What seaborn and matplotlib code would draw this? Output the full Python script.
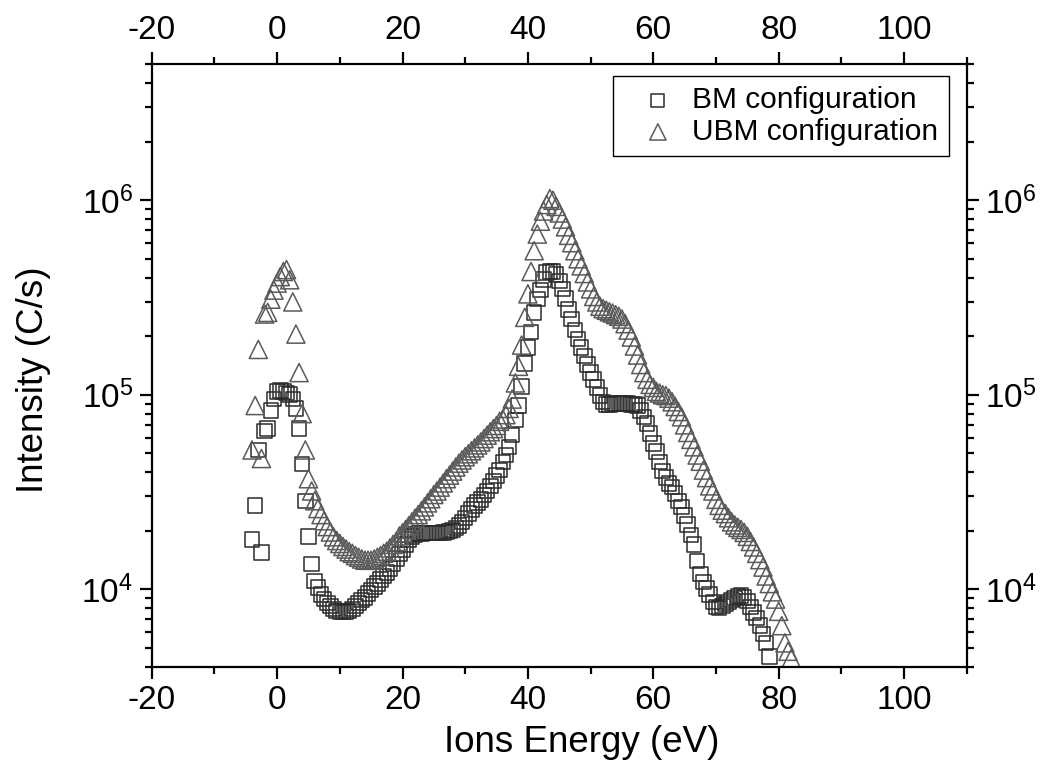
import numpy as np
import pandas as pd
import matplotlib
matplotlib.use("Agg")
import matplotlib.pyplot as plt
import seaborn as sns
from matplotlib.ticker import MultipleLocator

nan = np.nan

# ion energy grid (eV)
energy = [
    -4.0, -3.5, -3.0, -2.5, -2.0, -1.5, -1.0, -0.5, 0.0, 0.5,
    1.0, 1.5, 2.0, 2.5, 3.0, 3.5, 4.0, 4.5, 5.0, 5.5,
    6.0, 6.5, 7.0, 7.5, 8.0, 8.5, 9.0, 9.5, 10.0, 10.5,
    11.0, 11.5, 12.0, 12.5, 13.0, 13.5, 14.0, 14.5, 15.0, 15.5,
    16.0, 16.5, 17.0, 17.5, 18.0, 18.5, 19.0, 19.5, 20.0, 20.5,
    21.0, 21.5, 22.0, 22.5, 23.0, 23.5, 24.0, 24.5, 25.0, 25.5,
    26.0, 26.5, 27.0, 27.5, 28.0, 28.5, 29.0, 29.5, 30.0, 30.5,
    31.0, 31.5, 32.0, 32.5, 33.0, 33.5, 34.0, 34.5, 35.0, 35.5,
    36.0, 36.5, 37.0, 37.5, 38.0, 38.5, 39.0, 39.5, 40.0, 40.5,
    41.0, 41.5, 42.0, 42.5, 43.0, 43.5, 44.0, 44.5, 45.0, 45.5,
    46.0, 46.5, 47.0, 47.5, 48.0, 48.5, 49.0, 49.5, 50.0, 50.5,
    51.0, 51.5, 52.0, 52.5, 53.0, 53.5, 54.0, 54.5, 55.0, 55.5,
    56.0, 56.5, 57.0, 57.5, 58.0, 58.5, 59.0, 59.5, 60.0, 60.5,
    61.0, 61.5, 62.0, 62.5, 63.0, 63.5, 64.0, 64.5, 65.0, 65.5,
    66.0, 66.5, 67.0, 67.5, 68.0, 68.5, 69.0, 69.5, 70.0, 70.5,
    71.0, 71.5, 72.0, 72.5, 73.0, 73.5, 74.0, 74.5, 75.0, 75.5,
    76.0, 76.5, 77.0, 77.5, 78.0, 78.5, 79.0, 79.5, 80.0, 80.5,
    81.0, 81.5, 82.0,
]

# BM configuration intensity (C/s)
bm_intensity = [
    1.8e4, 2.7e4, 5.2e4, 1.55e4, 6.5e4, 6.7e4, 8.3e4, 9.5e4, 1.04e5, 1.05e5,
    1.04e5, 1.02e5, 1.0e5, 9.5e4, 8.5e4, 6.7e4, 4.4e4, 2.85e4, 1.87e4, 1.35e4,
    1.1e4, 1.02e4, 9.4e3, 8.9e3, 8.5e3, 8.2e3, 7.9e3, 7.75e3, 7.7e3, 7.65e3,
    7.7e3, 7.75e3, 7.9e3, 8.2e3, 8.5e3, 8.8e3, 9.1e3, 9.5e3, 9.9e3, 1.03e4,
    1.07e4, 1.12e4, 1.17e4, 1.22e4, 1.28e4, 1.35e4, 1.44e4, 1.52e4, 1.6e4, 1.7e4,
    1.8e4, 1.87e4, 1.91e4, 1.93e4, 1.94e4, 1.95e4, 1.95e4, 1.95e4, 1.95e4, 1.95e4,
    1.95e4, 1.96e4, 1.97e4, 1.99e4, 2.02e4, 2.07e4, 2.13e4, 2.22e4, 2.33e4, 2.45e4,
    2.57e4, 2.7e4, 2.8e4, 2.9e4, 3.05e4, 3.2e4, 3.4e4, 3.6e4, 3.85e4, 4.1e4,
    4.5e4, 4.9e4, 5.4e4, 6.2e4, 7.4e4, 8.8e4, 1.1e5, 1.45e5, 1.75e5, 2.1e5,
    2.65e5, 3.1e5, 3.45e5, 3.9e5, 4.25e5, 4.3e5, 4.3e5, 4.15e5, 3.85e5, 3.5e5,
    3.13e5, 2.75e5, 2.45e5, 2.15e5, 1.93e5, 1.75e5, 1.58e5, 1.43e5, 1.3e5, 1.2e5,
    1.09e5, 9.9e4, 9.2e4, 8.9e4, 8.9e4, 9.0e4, 9.0e4, 9.0e4, 9.0e4, 9.0e4,
    9.0e4, 8.9e4, 8.9e4, 8.8e4, 8.3e4, 7.7e4, 7.1e4, 6.3e4, 5.6e4, 5.1e4,
    4.5e4, 4.05e4, 3.75e4, 3.5e4, 3.35e4, 3.1e4, 2.85e4, 2.65e4, 2.4e4, 2.15e4,
    1.9e4, 1.7e4, 1.4e4, 1.2e4, 1.09e4, 1.01e4, 9.4e3, 8.6e3, 8.1e3, 8.0e3,
    8.2e3, 8.4e3, 8.6e3, 8.8e3, 9.0e3, 9.2e3, 9.3e3, 9.1e3, 8.7e3, 8.1e3,
    7.6e3, 7.1e3, 6.5e3, 5.9e3, 5.3e3, 4.5e3, nan, nan, nan, nan,
    nan, nan, nan,
]

# UBM configuration intensity (C/s)
ubm_intensity = [
    5.2e4, 8.8e4, 1.71e5, 4.7e4, 2.6e5, 2.65e5, 3.1e5, 3.45e5, 3.75e5, 4.05e5,
    4.3e5, 4.4e5, 3.9e5, 3.0e5, 2.05e5, 1.3e5, 8.0e4, 5.2e4, 3.7e4, 3.2e4,
    2.85e4, 2.6e4, 2.42e4, 2.25e4, 2.1e4, 1.97e4, 1.86e4, 1.78e4, 1.72e4, 1.66e4,
    1.61e4, 1.56e4, 1.53e4, 1.49e4, 1.46e4, 1.43e4, 1.41e4, 1.41e4, 1.41e4, 1.43e4,
    1.46e4, 1.49e4, 1.53e4, 1.57e4, 1.63e4, 1.7e4, 1.76e4, 1.88e4, 1.95e4, 2.03e4,
    2.12e4, 2.22e4, 2.32e4, 2.42e4, 2.53e4, 2.65e4, 2.78e4, 2.92e4, 3.07e4, 3.2e4,
    3.35e4, 3.52e4, 3.7e4, 3.86e4, 4.05e4, 4.25e4, 4.45e4, 4.62e4, 4.8e4, 4.97e4,
    5.15e4, 5.33e4, 5.52e4, 5.72e4, 5.95e4, 6.2e4, 6.45e4, 6.7e4, 6.95e4, 7.3e4,
    7.5e4, 7.9e4, 8.5e4, 9.5e4, 1.15e5, 1.4e5, 1.8e5, 2.5e5, 3.3e5, 4.3e5,
    5.5e5, 6.7e5, 7.8e5, 8.8e5, 9.5e5, 1.02e6, 1.0e6, 9.3e5, 8.6e5, 8.0e5,
    7.3e5, 6.6e5, 6.05e5, 5.5e5, 5.0e5, 4.6e5, 4.2e5, 3.8e5, 3.5e5, 3.2e5,
    3.0e5, 2.85e5, 2.77e5, 2.72e5, 2.67e5, 2.63e5, 2.58e5, 2.53e5, 2.45e5, 2.32e5,
    2.15e5, 1.98e5, 1.78e5, 1.6e5, 1.43e5, 1.3e5, 1.2e5, 1.13e5, 1.09e5, 1.04e5,
    1.02e5, 1.0e5, 9.9e4, 9.6e4, 9.2e4, 8.7e4, 8.2e4, 7.7e4, 7.0e4, 6.4e4,
    5.9e4, 5.4e4, 4.9e4, 4.55e4, 4.1e4, 3.75e4, 3.4e4, 3.2e4, 2.9e4, 2.7e4,
    2.55e4, 2.45e4, 2.33e4, 2.22e4, 2.14e4, 2.08e4, 2.03e4, 1.96e4, 1.87e4, 1.76e4,
    1.65e4, 1.53e4, 1.42e4, 1.3e4, 1.17e4, 1.07e4, 9.7e3, 8.9e3, 7.7e3, 6.5e3,
    5.3e3, 4.8e3, 4.4e3,
]

series_labels = ["BM configuration", "UBM configuration"]

df_bm = pd.DataFrame({"energy": energy, "intensity": bm_intensity})
df_ubm = pd.DataFrame({"energy": energy, "intensity": ubm_intensity})

sns.set_style("ticks")
plt.rcParams["font.family"] = ["Liberation Sans", "DejaVu Sans"]
plt.rcParams["mathtext.fontset"] = "custom"
plt.rcParams["mathtext.rm"] = "Liberation Sans"
plt.rcParams["mathtext.it"] = "Liberation Sans:italic"
plt.rcParams["mathtext.default"] = "regular"
plt.rcParams["axes.unicode_minus"] = False
plt.rcParams["text.color"] = "black"
plt.rcParams["axes.labelcolor"] = "black"
plt.rcParams["xtick.color"] = "black"
plt.rcParams["ytick.color"] = "black"

fig = plt.figure(figsize=(10.45, 7.81), dpi=100)
ax = fig.add_axes([0.1452, 0.1464, 0.7799, 0.7713])

sns.scatterplot(data=df_bm, x="energy", y="intensity", ax=ax, marker="s", s=110,
                facecolor="none", edgecolor="#2b2b2b", linewidth=1.1,
                label=series_labels[0])
sns.scatterplot(data=df_ubm, x="energy", y="intensity", ax=ax, marker="^", s=170,
                facecolor="none", edgecolor="#5a5a5a", linewidth=1.1,
                label=series_labels[1])

ax.set_yscale("log")
ax.set_xlim(-20, 110)
ax.set_ylim(4e3, 5e6)
ax.xaxis.set_major_locator(MultipleLocator(20))
ax.xaxis.set_minor_locator(MultipleLocator(10))

ax.set_xlabel("Ions Energy (eV)", fontsize=26.5, labelpad=6)
ax.set_ylabel("Intensity (C/s)", fontsize=26.5, labelpad=22)
ax.xaxis.label.set_x(0.527)
ax.yaxis.label.set_y(0.476)

for side in ["left", "right", "top", "bottom"]:
    ax.spines[side].set_visible(True)
    ax.spines[side].set_linewidth(1.6)
    ax.spines[side].set_color("black")

ax.tick_params(which="both", direction="out", top=True, right=True,
               labeltop=True, labelright=True, width=1.6, color="black")
ax.tick_params(which="major", length=8.5, labelsize=24, pad=5)
ax.tick_params(which="minor", length=5)

leg = ax.legend(loc="upper right", bbox_to_anchor=(0.978, 0.981), borderaxespad=0,
                fontsize=21.5, frameon=True, fancybox=False, edgecolor="black",
                framealpha=1, handlelength=2.3, handletextpad=0.0,
                borderpad=0.35, labelspacing=0.12, markerscale=0.9)
leg.get_frame().set_linewidth(1.0)

fig.savefig("out.png", dpi=100)
